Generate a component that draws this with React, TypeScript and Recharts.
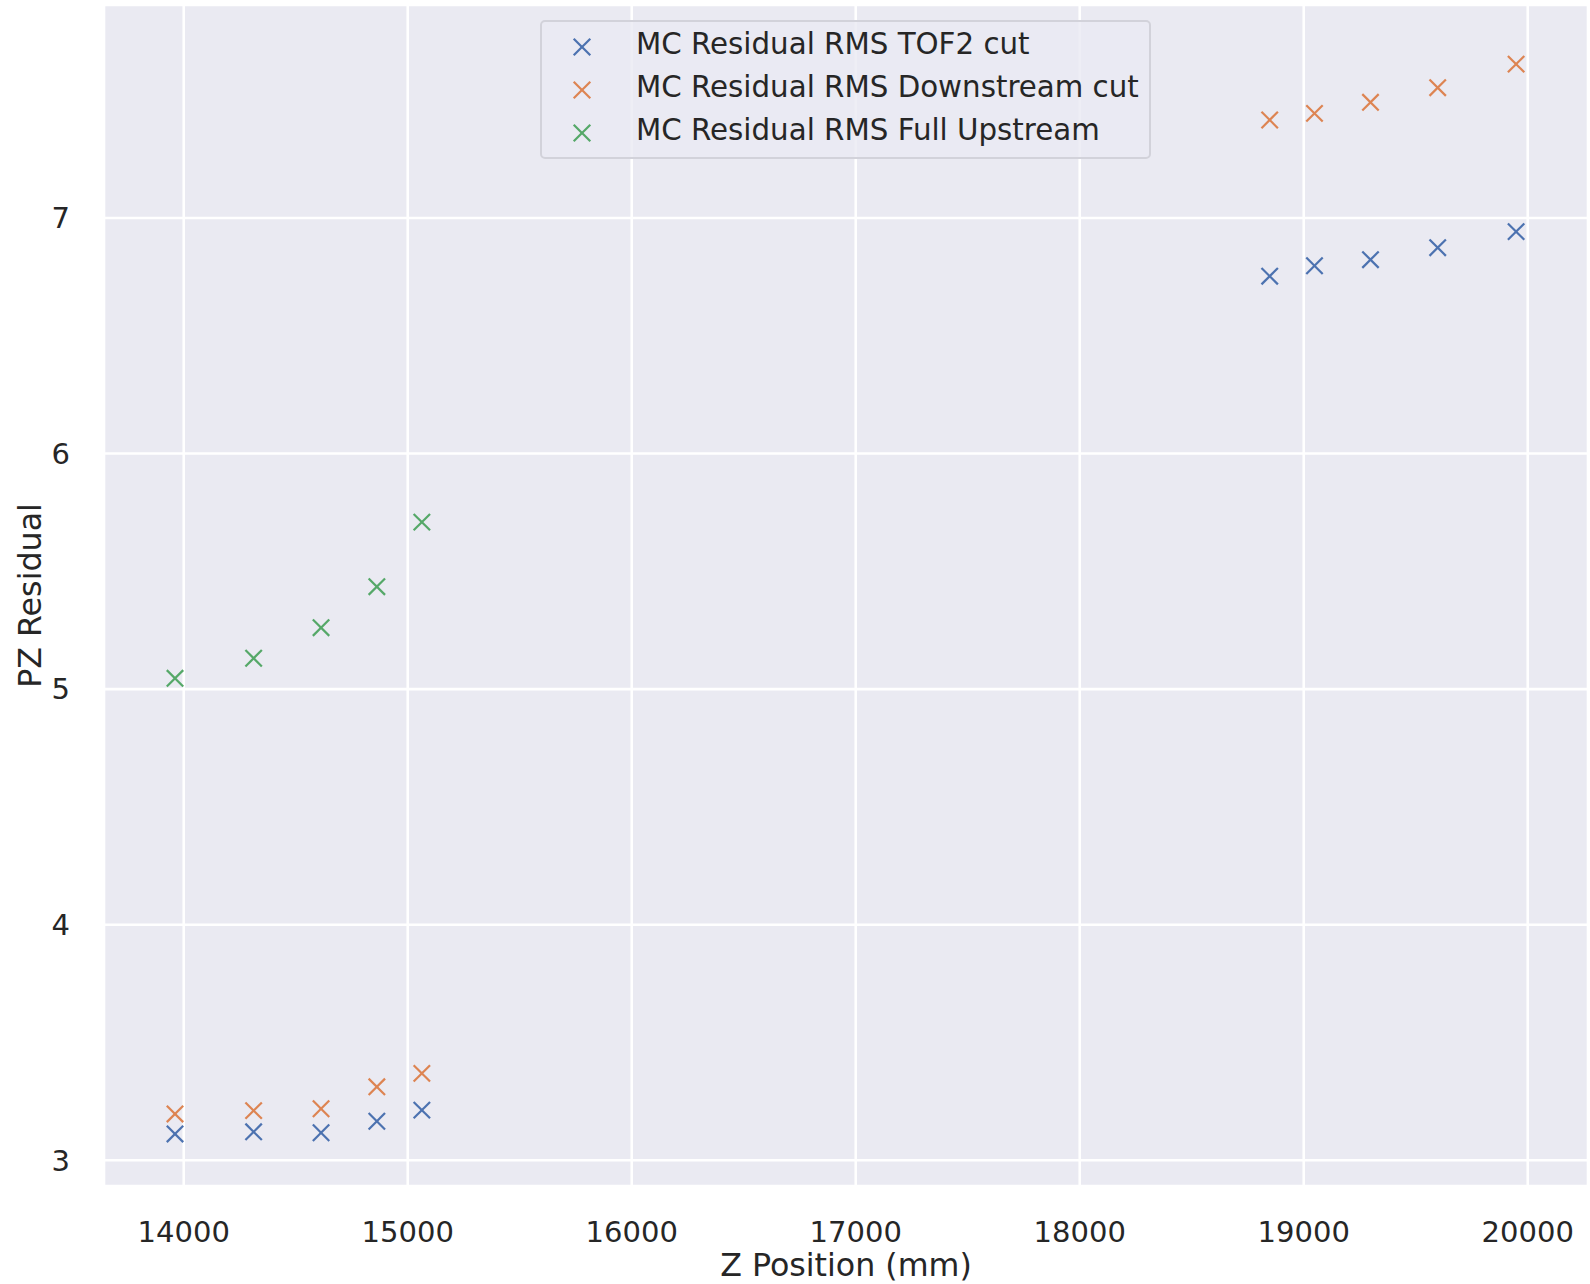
import {
  ScatterChart,
  Scatter,
  XAxis,
  YAxis,
  CartesianGrid,
  Legend,
} from "recharts"

// Z positions of the stations (mm)
const zUpstream = [13961, 14312, 14613, 14862, 15063]
const zDownstream = [18848, 19048, 19298, 19598, 19948]

// residual RMS values
const tof2Upstream = [3.112, 3.121, 3.117, 3.166, 3.213]
const tof2Downstream = [6.753, 6.797, 6.823, 6.874, 6.942]
const downstreamCutUpstream = [3.197, 3.211, 3.219, 3.312, 3.369]
const downstreamCutDownstream = [7.416, 7.444, 7.491, 7.553, 7.653]
const fullUpstream = [5.046, 5.131, 5.261, 5.435, 5.709]

const xTicks = [14000, 15000, 16000, 17000, 18000, 19000, 20000]
const yTicks = [3, 4, 5, 6, 7]

const seriesNames = [
  "MC Residual RMS TOF2 cut",
  "MC Residual RMS Downstream cut",
  "MC Residual RMS Full Upstream",
]
const colors = ["#4C72B0", "#DD8452", "#55A868"]

const toPoints = (zs: number[], vals: number[]) => zs.map((z, i) => ({ z, pz: vals[i] }))

const tof2Data = [...toPoints(zUpstream, tof2Upstream), ...toPoints(zDownstream, tof2Downstream)]
const downstreamData = [
  ...toPoints(zUpstream, downstreamCutUpstream),
  ...toPoints(zDownstream, downstreamCutDownstream),
]
const fullData = toPoints(zUpstream, fullUpstream)

const FONT = "'DejaVu Sans', sans-serif"
const TEXT = "#262626"

function Cross({ cx, cy, color }: { cx?: number; cy?: number; color: string }) {
  if (cx == null || cy == null) return null
  const h = 8.2
  return (
    <g>
      <line x1={cx - h} y1={cy - h} x2={cx + h} y2={cy + h} stroke={color} strokeWidth={2.2} />
      <line x1={cx - h} y1={cy + h} x2={cx + h} y2={cy - h} stroke={color} strokeWidth={2.2} />
    </g>
  )
}

function LegendBox() {
  return (
    <div
      style={{
        width: "100%",
        height: "100%",
        boxSizing: "border-box",
        background: "rgba(234,234,242,0.8)",
        border: "2px solid #d2d2da",
        borderRadius: 5,
        position: "relative",
        fontFamily: FONT,
        fontSize: 29.3,
        color: TEXT,
      }}
    >
      {seriesNames.map((name, i) => (
        <div key={name}>
          <svg
            width={24}
            height={24}
            style={{ position: "absolute", left: 39.7 - 12, top: 24.7 - 12 + i * 43 }}
          >
            <line x1={3.7} y1={3.7} x2={20.3} y2={20.3} stroke={colors[i]} strokeWidth={2.2} />
            <line x1={3.7} y1={20.3} x2={20.3} y2={3.7} stroke={colors[i]} strokeWidth={2.2} />
          </svg>
          <span
            style={{
              position: "absolute",
              left: 94,
              top: 4 + i * 43,
              whiteSpace: "nowrap",
              lineHeight: "36px",
            }}
          >
            {name}
          </span>
        </div>
      ))}
    </div>
  )
}

export default function App() {
  return (
    <div style={{ position: "absolute", left: 0, top: 0, width: 1590, height: 1284, background: "#fff" }}>
      <ScatterChart
        width={1590}
        height={1284}
        margin={{ top: 5, right: 2, bottom: 0, left: 4 }}
      >
        <CartesianGrid fill="#EAEAF2" stroke="#ffffff" strokeWidth={2.6} />
        <XAxis
          dataKey="z"
          type="number"
          domain={[13644, 20269]}
          ticks={xTicks}
          height={98}
          axisLine={false}
          tickLine={false}
          tickMargin={29}
          tick={{ fontSize: 29, fill: TEXT, fontFamily: FONT }}
          allowDataOverflow
          label={{
            value: "Z Position (mm)",
            position: "insideBottom",
            offset: 8,
            style: { fontSize: 31.7, fill: TEXT, fontFamily: FONT },
          }}
        />
        <YAxis
          dataKey="pz"
          type="number"
          domain={[2.891, 7.904]}
          ticks={yTicks}
          width={100}
          axisLine={false}
          tickLine={false}
          tickMargin={28}
          tick={{ fontSize: 29, fill: TEXT, fontFamily: FONT }}
          allowDataOverflow
          label={{
            value: "PZ Residual",
            angle: -90,
            position: "insideLeft",
            offset: 26,
            style: { fontSize: 31.7, fill: TEXT, fontFamily: FONT, textAnchor: "middle" },
          }}
        />
        <Legend
          layout="horizontal"
          verticalAlign="middle"
          align="center"
          content={() => <LegendBox />}
          wrapperStyle={{ position: "absolute", left: 540, top: 20, width: 611, height: 139 }}
        />
        <Scatter
          name={seriesNames[0]}
          data={tof2Data}
          isAnimationActive={false}
          shape={(p: any) => <Cross cx={p.cx} cy={p.cy} color={colors[0]} />}
        />
        <Scatter
          name={seriesNames[1]}
          data={downstreamData}
          isAnimationActive={false}
          shape={(p: any) => <Cross cx={p.cx} cy={p.cy} color={colors[1]} />}
        />
        <Scatter
          name={seriesNames[2]}
          data={fullData}
          isAnimationActive={false}
          shape={(p: any) => <Cross cx={p.cx} cy={p.cy} color={colors[2]} />}
        />
      </ScatterChart>
    </div>
  )
}
